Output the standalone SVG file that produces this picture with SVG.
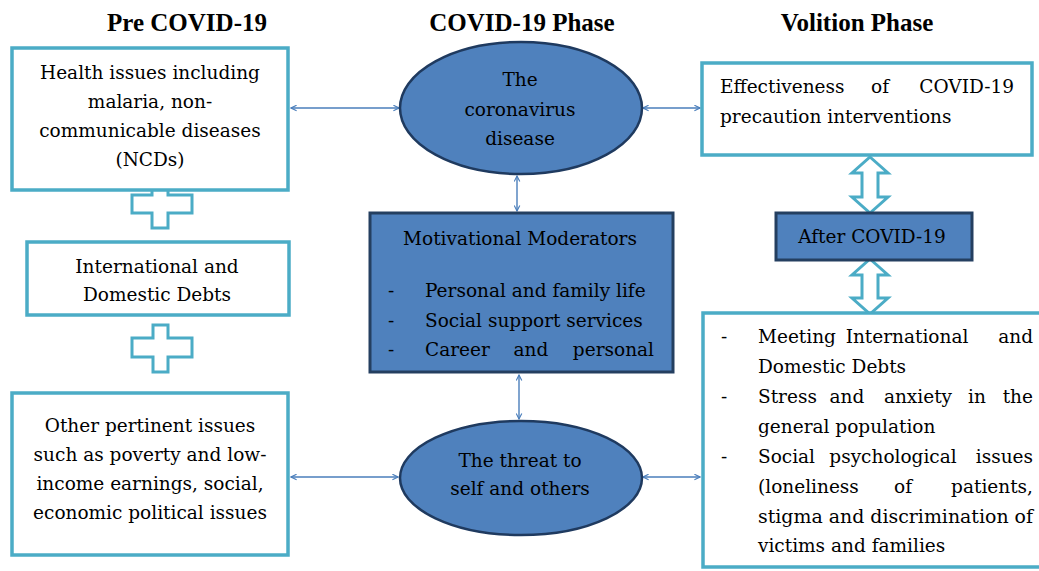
<svg xmlns="http://www.w3.org/2000/svg" width="1039" height="571" viewBox="0 0 1039 571">
<style>
.head{font-family:"Liberation Serif","Times New Roman",serif;font-weight:bold;font-size:25px;fill:#000;text-anchor:middle}
.t{font-family:"DejaVu Serif","Liberation Serif",serif;font-size:18.5px;fill:#000}
.c{text-anchor:middle}
.e{text-anchor:end}
.tbox{fill:#fff;stroke:#4bacc6;stroke-width:3.5}
.bbox{fill:#4f81bd;stroke:#243f60;stroke-width:3}
.ell{fill:#4f81bd;stroke:#1f3a5f;stroke-width:2.5}
.conn{stroke:#4a7ebb;stroke-width:1.4;fill:none;marker-start:url(#ah);marker-end:url(#ah)}
.blk{fill:#fff;stroke:#4bacc6;stroke-width:3;stroke-linejoin:miter}
</style>
<defs>
<marker id="ah" viewBox="0 0 10 10" refX="9" refY="5" markerWidth="7" markerHeight="7" markerUnits="userSpaceOnUse" orient="auto-start-reverse">
<path d="M1,1 L9,5 L1,9" fill="none" stroke="#4a7ebb" stroke-width="1.6"/>
</marker>
</defs>
<rect width="1039" height="571" fill="#fff"/>

<g id="headings">
<text class="head" x="187" y="31">Pre COVID-19</text>
<text class="head" x="522" y="31">COVID-19 Phase</text>
<text class="head" x="857" y="31">Volition Phase</text>
</g>

<g id="connectors">
<line class="conn" x1="291" y1="108" x2="399" y2="108"/>
<line class="conn" x1="643" y1="108" x2="700" y2="108"/>
<line class="conn" x1="517" y1="176" x2="517" y2="211"/>
<line class="conn" x1="519" y1="375" x2="519" y2="419"/>
<line class="conn" x1="291" y1="477" x2="398" y2="477"/>
<line class="conn" x1="643" y1="477" x2="700" y2="477"/>
<polygon class="blk" points="870,157 888,173 878,173 878,197 888,197 870,213 852,197 862,197 862,173 852,173"/>
<polygon class="blk" points="870,259 888,275 878,275 878,298 888,298 870,314 852,298 862,298 862,275 852,275"/>
</g>

<g id="plus1">
<polygon class="blk" points="152,186 168,186 168,195 192,195 192,213 168,213 168,228 152,228 152,213 132,213 132,195 152,195"/>
</g>
<g id="plus2">
<polygon class="blk" points="153,325 168,325 168,338 192,338 192,357 168,357 168,372 153,372 153,357 132,357 132,338 153,338"/>
</g>

<g id="health">
<rect class="tbox" x="12" y="48" width="276" height="142"/>
<text class="t c" x="150" y="79">Health issues including</text>
<text class="t c" x="150" y="108">malaria, non-</text>
<text class="t c" x="150" y="137">communicable diseases</text>
<text class="t c" x="150" y="166">(NCDs)</text>
</g>

<g id="debts">
<rect class="tbox" x="27" y="242" width="262" height="73"/>
<text class="t c" x="157" y="273">International and</text>
<text class="t c" x="157" y="301">Domestic Debts</text>
</g>

<g id="other">
<rect class="tbox" x="12" y="393" width="276" height="162"/>
<text class="t c" x="150" y="432">Other pertinent issues</text>
<text class="t c" x="150" y="461">such as poverty and low-</text>
<text class="t c" x="150" y="490">income earnings, social,</text>
<text class="t c" x="150" y="519">economic political issues</text>
</g>

<g id="coronavirus">
<ellipse class="ell" cx="521" cy="108" rx="121" ry="66"/>
<text class="t c" x="520" y="86">The</text>
<text class="t c" x="520" y="116">coronavirus</text>
<text class="t c" x="520" y="145">disease</text>
</g>

<g id="moderators">
<rect class="bbox" x="370" y="213" width="303" height="159"/>
<text class="t c" x="520" y="245">Motivational Moderators</text>
<text class="t" x="388" y="297">-</text>
<text class="t" x="425" y="297">Personal and family life</text>
<text class="t" x="388" y="327">-</text>
<text class="t" x="425" y="327">Social support services</text>
<text class="t" x="388" y="356">-</text>
<text class="t" y="356"><tspan x="425">Career</tspan><tspan x="531" text-anchor="middle">and</tspan><tspan x="654" text-anchor="end">personal</tspan></text>
</g>

<g id="threat">
<ellipse class="ell" cx="521" cy="478" rx="121" ry="57"/>
<text class="t c" x="520" y="467">The threat to</text>
<text class="t c" x="520" y="495">self and others</text>
</g>

<g id="effectiveness">
<rect class="tbox" x="702" y="63" width="330" height="92"/>
<text class="t" y="93"><tspan x="720">Effectiveness</tspan><tspan x="880" text-anchor="middle">of</tspan><tspan x="1014" text-anchor="end">COVID-19</tspan></text>
<text class="t" x="720" y="123">precaution interventions</text>
</g>

<g id="after">
<rect class="bbox" x="776" y="213" width="196" height="47"/>
<text class="t c" x="872" y="243">After COVID-19</text>
</g>

<g id="outcomes">
<rect class="tbox" x="703" y="313" width="345" height="254"/>
<text class="t" x="721" y="343">-</text>
<text class="t" y="343"><tspan x="758">Meeting</tspan><tspan x="907" text-anchor="middle">International</tspan><tspan x="1033" text-anchor="end">and</tspan></text>
<text class="t" x="758" y="373">Domestic Debts</text>
<text class="t" x="721" y="403">-</text>
<text class="t" y="403"><tspan x="758">Stress</tspan><tspan x="847" text-anchor="middle">and</tspan><tspan x="918" text-anchor="middle">anxiety</tspan><tspan x="977" text-anchor="middle">in</tspan><tspan x="1033" text-anchor="end">the</tspan></text>
<text class="t" x="758" y="433">general population</text>
<text class="t" x="721" y="463">-</text>
<text class="t" y="463"><tspan x="758">Social</tspan><tspan x="893" text-anchor="middle">psychological</tspan><tspan x="1033" text-anchor="end">issues</tspan></text>
<text class="t" y="493"><tspan x="758">(loneliness</tspan><tspan x="903" text-anchor="middle">of</tspan><tspan x="1033" text-anchor="end">patients,</tspan></text>
<text class="t" x="758" y="523" textLength="275" lengthAdjust="spacingAndGlyphs">stigma and discrimination of</text>
<text class="t" x="758" y="552">victims and families</text>
</g>
</svg>
